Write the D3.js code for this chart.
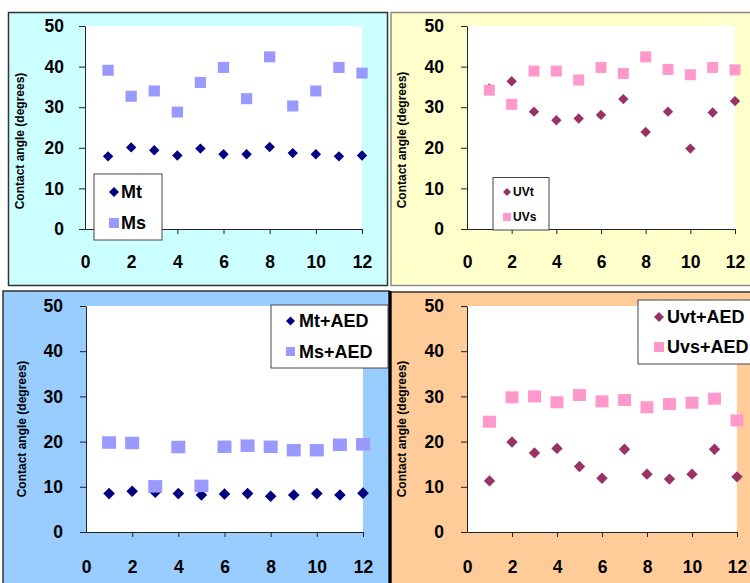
<!DOCTYPE html>
<html><head><meta charset="utf-8">
<script src="https://cdn.jsdelivr.net/npm/d3@7"></script>
<style>
html,body{margin:0;padding:0;background:#fff;}
svg{display:block;font-family:"Liberation Sans",Arial,sans-serif;}
</style></head>
<body>
<svg id="chart" width="750" height="583"></svg>
<script>
// ---------- DATA ----------
const samples = [1,2,3,4,5,6,7,8,9,10,11,12];
const xTicks = [0,2,4,6,8,10,12];
const yTicks = [0,10,20,30,40,50];
const yTitle = "Contact angle (degrees)";

const Mt  = [17.9,20.1,19.4,18.1,19.8,18.4,18.4,20.2,18.7,18.4,17.9,18.1];
const Ms  = [39.1,32.7,34.0,28.8,36.1,39.8,32.1,42.4,30.3,34.0,39.8,38.4];
const UVt = [34.6,36.4,28.9,26.8,27.2,28.1,32.0,23.9,28.9,19.8,28.7,31.5];
const UVs = [34.2,30.7,38.9,38.9,36.7,39.8,38.3,42.4,39.3,38.0,39.8,39.2];
const MtAED  = [8.5,9.0,8.8,8.5,8.2,8.4,8.5,7.9,8.2,8.5,8.2,8.6];
const MsAED  = [19.8,19.7,10.1,18.8,10.2,18.85,19.1,18.85,18.1,18.1,19.3,19.4];
const UvtAED = [11.3,19.9,17.5,18.5,14.5,11.9,18.3,12.8,11.7,12.8,18.3,12.2];
const UvsAED = [24.4,29.8,30.0,28.7,30.3,28.9,29.2,27.6,28.3,28.6,29.5,24.7];

const seriesNames = [["Mt","Ms"],["UVt","UVs"],["Mt+AED","Ms+AED"],["Uvt+AED","Uvs+AED"]];
const seriesData  = [[Mt,Ms],[UVt,UVs],[MtAED,MsAED],[UvtAED,UvsAED]];

// ---------- LAYOUT / STYLE ----------
const panels = [
  {bg:{x:8.5,y:12.5,w:379,h:273}, fill:"#ccffff", stroke:"#333",
   plot:{x0:85,x1:362,y0:26,y1:229}, titleX:20, titleY:141, xlabY:27, ylabPad:15,
   colors:["#000080","#9999ff"], dia:5.2, sq:[11.3,11],
   leg:{x:94,y:174,w:68,h:66,mx:114,tx:121,ys:[192,223],font:18,dia:5,sq:10}},
  {bg:{x:391,y:12.5,w:370,h:273}, fill:"#ffffcc", stroke:"#888",
   plot:{x0:467,x1:735,y0:26,y1:229}, titleX:402, titleY:140, xlabY:27, ylabPad:17,
   colors:["#993366","#ff99cc"], dia:5.2, sq:[11,11],
   leg:{x:493,y:177.5,w:56,h:52.5,mx:507,tx:513,ys:[192,217],font:12,dia:4,sq:8}},
  {bg:{x:3,y:291,w:386,h:300}, fill:"#99ccff", stroke:"#333",
   plot:{x0:86,x1:363,y0:306,y1:532}, titleX:22, titleY:429, xlabY:29, ylabPad:17,
   colors:["#000080","#9999ff"], dia:5.8, sq:[14,12.5],
   leg:{x:271,y:305,w:117,h:63,mx:290.5,tx:299,ys:[321,351.5],font:18,dia:4.5,sq:9}},
  {bg:{x:391,y:292,w:370,h:300}, fill:"#ffcc99", stroke:"#333",
   plot:{x0:467,x1:737,y0:306,y1:532}, titleX:402, titleY:429, xlabY:29, ylabPad:17,
   colors:["#993366","#ff99cc"], dia:5.7, sq:[13,12],
   leg:{x:638,y:300,w:130,h:64,mx:659,tx:667,ys:[317,347],font:18,dia:5,sq:10}}
];

const svg = d3.select("#chart");
const diamond = (cx,cy,r)=>`M${cx},${cy-r}L${cx+r},${cy}L${cx},${cy+r}L${cx-r},${cy}Z`;

panels.forEach((p,i)=>{
  const g = svg.append("g");
  g.append("rect").attr("x",p.bg.x).attr("y",p.bg.y).attr("width",p.bg.w).attr("height",p.bg.h)
    .attr("fill",p.fill).attr("stroke",p.stroke).attr("stroke-width",1.5);
  const x = d3.scaleLinear().domain([0,12]).range([p.plot.x0,p.plot.x1]);
  const y = d3.scaleLinear().domain([0,50]).range([p.plot.y1,p.plot.y0]);
  g.append("rect").attr("x",x(0)).attr("y",y(50)).attr("width",x(12)-x(0)).attr("height",y(0)-y(50)).attr("fill","#fff");

  const ya = g.append("g").attr("transform",`translate(${x(0)},0)`)
    .call(d3.axisLeft(y).tickValues(yTicks).tickSize(6).tickPadding(p.ylabPad).tickSizeOuter(0));
  const xa = g.append("g").attr("transform",`translate(0,${y(0)})`)
    .call(d3.axisBottom(x).tickValues(xTicks).tickSize(5).tickPadding(p.xlabY-5).tickSizeOuter(0));
  [ya,xa].forEach(a=>{
    a.selectAll("path").attr("stroke","#222").attr("stroke-width",1);
    a.selectAll("line").attr("stroke","#222").attr("stroke-width",1);
    a.selectAll("text").attr("fill","#000").style("font-size","17.5px").style("font-weight","bold")
      .style("font-family","'Liberation Sans',Arial,sans-serif");
  });
  xa.selectAll(".tick").filter(d=>d===0).select("line").remove();

  g.append("text").attr("transform",`translate(${p.titleX},${p.titleY}) rotate(-90)`)
    .attr("text-anchor","middle").attr("dominant-baseline","central")
    .style("font-size","12px").style("font-weight","bold").text(yTitle);

  const [s1,s2] = seriesData[i];
  g.append("g").selectAll("path").data(samples).join("path")
    .attr("d",(d,k)=>diamond(x(d),y(s1[k]),p.dia)).attr("fill",p.colors[0]);
  g.append("g").selectAll("rect").data(samples).join("rect")
    .attr("x",(d)=>x(d)-p.sq[0]/2).attr("y",(d,k)=>y(s2[k])-p.sq[1]/2)
    .attr("width",p.sq[0]).attr("height",p.sq[1]).attr("fill",p.colors[1]);

  const L = p.leg;
  g.append("rect").attr("x",L.x).attr("y",L.y).attr("width",L.w).attr("height",L.h)
    .attr("fill","#fff").attr("stroke","#444").attr("stroke-width",1);
  g.append("path").attr("d",diamond(L.mx,L.ys[0],L.dia)).attr("fill",p.colors[0]);
  g.append("rect").attr("x",L.mx-L.sq/2).attr("y",L.ys[1]-L.sq/2).attr("width",L.sq).attr("height",L.sq).attr("fill",p.colors[1]);
  seriesNames[i].forEach((n,k)=>{
    g.append("text").attr("x",L.tx).attr("y",L.ys[k]).attr("dominant-baseline","central")
      .style("font-size",L.font+"px").style("font-weight","bold").text(n);
  });
});
// divider between lower panels
svg.append("line").attr("x1",390).attr("x2",390).attr("y1",291).attr("y2",583)
  .attr("stroke","#000").attr("stroke-width",2.5);
</script>
</body></html>
